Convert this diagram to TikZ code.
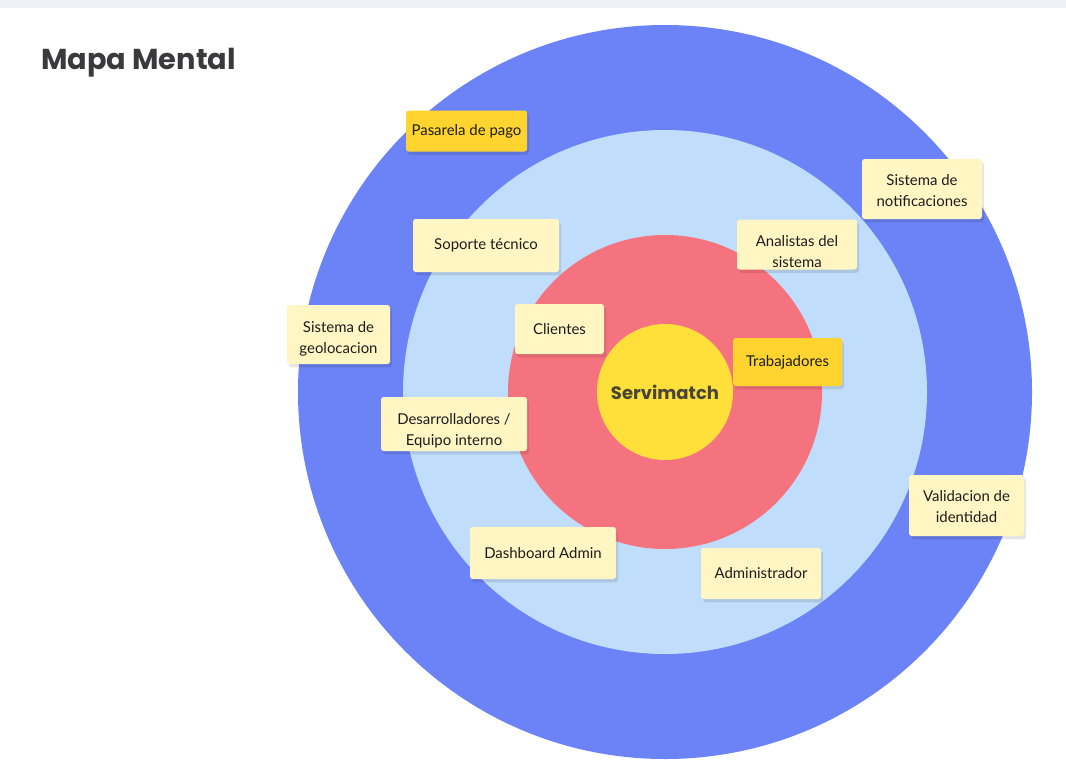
\documentclass[tikz,border=0pt]{standalone}
\usepackage{fontspec}
\setmainfont{Lato}
\newfontfamily\headfont{Poppins}
\usetikzlibrary{positioning, shadows}
\definecolor{topbar}{HTML}{EEF2F6}
\definecolor{ringouter}{HTML}{6B83F6}
\definecolor{ringmid}{HTML}{C0DDFB}
\definecolor{ringinner}{HTML}{F5737E}
\definecolor{core}{HTML}{FFE03A}
\definecolor{notepale}{HTML}{FFF6C4}
\definecolor{notestrong}{HTML}{FFD42E}
\definecolor{notetext}{HTML}{1C1C1C}
\definecolor{titlegray}{HTML}{3A3A3C}
\definecolor{coretext}{HTML}{4A4636}

\begin{document}
\begin{tikzpicture}[
    x=0.75pt, y=-0.75pt,
    ring/.style={circle, draw=none, inner sep=0pt},
    note/.style={rectangle, rounded corners=2pt, fill=notepale, inner sep=0pt,
                 align=center, text=notetext,
                 font=\fontsize{11.2}{15.75}\selectfont,
                 drop shadow={shadow xshift=1.5pt, shadow yshift=-2.5pt,
                              opacity=0.10, fill=black}},
    strong/.style={fill=notestrong},
    textpos/.style={text height=#1, text depth=0pt},
]

% Page frame
\useasboundingbox (0,0) rectangle (1066,761);
\fill[white] (0,0) rectangle (1066,761);
\fill[topbar] (0,0) rectangle (1066,8);

\node[anchor=base west, inner sep=0pt, text=titlegray,
      font=\headfont\bfseries\fontsize{21.6}{25}\selectfont]
    (title) at (41,69) {Mapa Mental};

% Concentric rings
\node[ring, fill=ringouter, minimum size=550.5pt] (outer) at (665,392) {};
\node[ring, fill=ringmid, minimum size=393pt] (middle) at (665,392) {};
\node[ring, fill=ringinner, minimum size=235.5pt] (inner) at (665,392) {};
\node[ring, fill=core, minimum size=102pt, text=coretext,
      font=\headfont\bfseries\fontsize{13.5}{16}\selectfont]
    (core) at (665,392) {Servimatch};

% Sticky notes, outer ring
\node[note, strong, minimum width=90.75pt, minimum height=30.75pt]
    (pago) at (466.5,131) {Pasarela de pago};
\node[note, textpos=26.5pt, minimum width=90pt, minimum height=45pt]
    (notif) at (922,189) {Sistema de\\notificaciones};
\node[note, textpos=27.8pt, minimum width=77.25pt, minimum height=44.25pt]
    (geo) at (338.5,334.5) {Sistema de\\geolocacion};
\node[note, textpos=25.8pt, minimum width=86.25pt, minimum height=45.75pt]
    (ident) at (966.5,505.5) {Validacion de\\identidad};

% Sticky notes, middle ring
\node[note, minimum width=109.5pt, minimum height=39.75pt]
    (soporte) at (486,245.5) {Soporte técnico};
\node[note, textpos=33.8pt, minimum width=90pt, minimum height=37.5pt]
    (analistas) at (797,244.5) {Analistas del\\sistema};
\node[note, textpos=32.6pt, minimum width=109.5pt, minimum height=40.5pt]
    (devs) at (454,424) {Desarrolladores /\\Equipo interno};
\node[note, minimum width=109.5pt, minimum height=39pt]
    (dash) at (543,553) {Dashboard Admin};
\node[note, minimum width=90pt, minimum height=38.25pt]
    (admin) at (761,573.5) {Administrador};

% Sticky notes, inner ring
\node[note, minimum width=66.75pt, minimum height=37.5pt]
    (clientes) at (559.5,329) {Clientes};
\node[note, strong, minimum width=81.75pt, minimum height=36pt]
    (trab) at (787.5,362) {Trabajadores};

\end{tikzpicture}
\end{document}
